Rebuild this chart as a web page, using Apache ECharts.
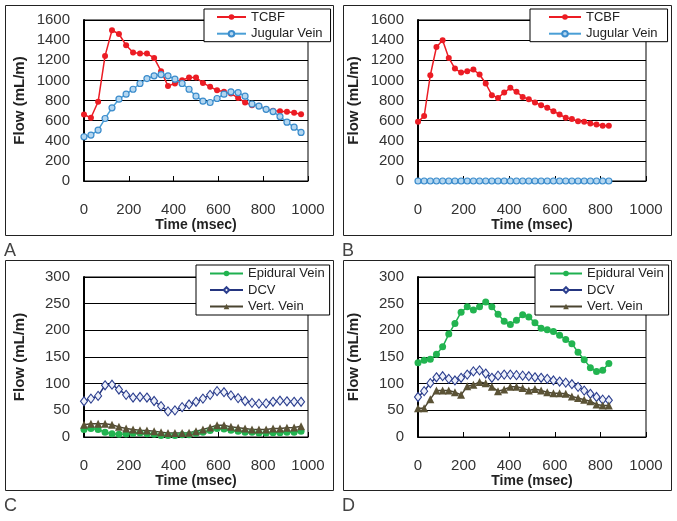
<!DOCTYPE html>
<html>
<head>
<meta charset="utf-8">
<script src="https://cdn.jsdelivr.net/npm/echarts@6/dist/echarts.min.js"></script>
<style>
html,body{margin:0;padding:0;background:#fff;}
#chart{width:677px;height:521px;}
</style>
</head>
<body>
<div id="chart"></div>
<script>
// Time stamps (msec)
var timesAC = [0,31,63,94,125,156,188,219,250,281,313,344,375,406,438,469,500,531,563,594,625,656,688,719,750,781,813,844,875,906,938,969];
var timesBD = [0,27,54,81,108,135,162,189,216,243,270,297,324,351,378,405,432,459,486,513,540,567,594,621,648,675,702,729,756,783,810,837];

// Panel A
var tcbfA = [661,628,787,1243,1498,1461,1349,1276,1266,1266,1223,1091,945,969,1002,1028,1028,975,936,902,886,869,826,780,754,747,714,697,694,688,678,664];
var jugularA = [440,456,506,621,727,813,863,912,969,1018,1045,1058,1045,1012,969,912,843,793,780,820,863,886,879,843,765,745,712,690,640,585,535,483];

// Panel B
var tcbfB = [588,645,1051,1332,1398,1223,1117,1078,1091,1107,1058,969,853,826,879,926,886,836,813,780,754,727,694,661,628,615,595,588,572,562,549,549];
var jugularB = [0,0,0,0,0,0,0,0,0,0,0,0,0,0,0,0,0,0,0,0,0,0,0,0,0,0,0,0,0,0,0,0];

// Panel C
var epiduralC = [14,16,14,9,6,5,5.6,7,7.5,6,5,3,3,3,4,4,7,9,12,16,15,12.5,11,9,9,7.5,7.5,8,8,9,9,11];
var dcvC = [67,72,77,97,98,89,79,74,75,74,67.5,58,48,50,56,61,66,72,79,86,84,78,73,67.5,64,62.5,63,66,68,67,66,66];
var vertC = [23,25,25,25,23,19,16,14,12.5,12,11,9,7.5,7.5,7.5,8,11,14,18,22,22,19,17.5,16,14,14,14,16,16,17.5,18,20];

// Panel D
var epiduralD = [139,144,146,155,169,193,213,234,244,238,244,253,244,230,217,211,219,229,225,214,204,201,198,191,183,175,159,145,130,123,125,138];
var dcvD = [75,86,101,112,114,109,106,111,117,123,125,119,111,115,117,117,116,115,114,112,111,109,106,104,102,99,94,87,81,75,70,69];
var vertD = [54,54,71,87,87,87,84,79,95,98,103,101,94,86,89,94,94,92,87,90,87,84,82,82,81,76,73,70,67,61,59,59];

// Axis ticks
var xTicks = {min:0, max:1000, interval:200};
var yTicksTop = {min:0, max:1600, interval:200};
var yTicksBottom = {min:0, max:300, interval:50};

var panelLetters = ['A','B','C','D'];
var FONT = 'Liberation Sans, Arial, sans-serif';

function pairs(xs, ys){ return xs.map(function(x,i){ return [x, ys[i]]; }); }
function plain(v){ return String(v); }

var grids = [
  {left:84, top:20, width:224, height:161},
  {left:418, top:20, width:228, height:161},
  {left:84, top:277, width:224, height:160},
  {left:418, top:277, width:228, height:160}
].map(function(g){
  return Object.assign({show:true, borderColor:'#000', borderWidth:1, backgroundColor:'#fff', containLabel:false}, g);
});

var xAxes = [0,1,2,3].map(function(i){
  return {
    type:'value', gridIndex:i, min:xTicks.min, max:xTicks.max, interval:xTicks.interval,
    name:'Time (msec)', nameLocation:'middle', nameGap:34,
    nameTextStyle:{fontFamily:FONT, fontSize:14, fontWeight:'bold', color:'#222'},
    axisLine:{show:true, lineStyle:{color:'#000', width:1}},
    axisTick:{show:true, inside:true, length:5, lineStyle:{color:'#000'}},
    axisLabel:{margin:21, fontFamily:FONT, fontSize:15, color:'#333', formatter:plain},
    splitLine:{show:false}
  };
});

var yAxes = [0,1,2,3].map(function(i){
  var t = i < 2 ? yTicksTop : yTicksBottom;
  return {
    type:'value', gridIndex:i, min:t.min, max:t.max, interval:t.interval,
    name:'Flow (mL/m)', nameLocation:'middle', nameGap:57, nameRotate:90,
    nameTextStyle:{fontFamily:FONT, fontSize:15, fontWeight:'bold', color:'#222'},
    axisLine:{show:true, lineStyle:{color:'#000', width:2}},
    axisTick:{show:false},
    axisLabel:{margin:14, fontFamily:FONT, fontSize:15, color:'#333', formatter:plain},
    splitLine:{show:true, lineStyle:{color:'#000', width:1}}
  };
});

var RED = '#ec1c24';
var styleTCBF = {symbol:'circle', symbolSize:6, lineStyle:{color:RED, width:1.5}, itemStyle:{color:RED}};
var styleJV = {symbol:'circle', symbolSize:6, lineStyle:{color:'#4a9fd6', width:1.5}, itemStyle:{color:'#b3d6f0', borderColor:'#3b8ccc', borderWidth:1.2}};
var styleEpi = {symbol:'circle', symbolSize:7, lineStyle:{color:'#1fb050', width:1.5}, itemStyle:{color:'#22b450'}};
var styleDCV = {symbol:'diamond', symbolSize:[7,9], lineStyle:{color:'#24357f', width:1.5}, itemStyle:{color:'#eef1fa', borderColor:'#2c3f8f', borderWidth:1.1}};
var styleVert = {symbol:'triangle', symbolSize:8, lineStyle:{color:'#4a4430', width:1.5}, itemStyle:{color:'#5b5336'}};

function mk(name, idx, xs, ys, st){
  return Object.assign({type:'line', name:name, xAxisIndex:idx, yAxisIndex:idx, data:pairs(xs, ys), showSymbol:true, animation:false, z:3}, st);
}

var series = [
  mk('TCBF', 0, timesAC, tcbfA, styleTCBF),
  mk('Jugular Vein', 0, timesAC, jugularA, styleJV),
  mk('TCBF', 1, timesBD, tcbfB, styleTCBF),
  mk('Jugular Vein', 1, timesBD, jugularB, styleJV),
  mk('Epidural Vein', 2, timesAC, epiduralC, styleEpi),
  mk('DCV', 2, timesAC, dcvC, styleDCV),
  mk('Vert. Vein', 2, timesAC, vertC, styleVert),
  mk('Epidural Vein', 3, timesBD, epiduralD, styleEpi),
  mk('DCV', 3, timesBD, dcvD, styleDCV),
  mk('Vert. Vein', 3, timesBD, vertD, styleVert)
];

function legend(names, left, top, itemWidth, pad, gap){
  return {
    data:names, orient:'vertical', left:left, top:top, itemWidth:itemWidth, itemHeight:7, itemGap:gap,
    padding:pad, backgroundColor:'#fff', borderColor:'#000', borderWidth:1, borderRadius:0,
    selectedMode:false, textStyle:{fontFamily:FONT, fontSize:13, color:'#222', lineHeight:12}, z:10
  };
}

var legends = [
  legend(['TCBF','Jugular Vein'], 204, 9, 29, [1.5, 8, 1.5, 12], 3.7),
  legend(['TCBF','Jugular Vein'], 530, 9, 32, [1.5, 10, 1.5, 18], 3.7),
  legend(['Epidural Vein','DCV','Vert. Vein'], 196, 265, 33, [2, 5, 2, 13], 3.5),
  legend(['Epidural Vein','DCV','Vert. Vein'], 535, 265, 32, [2, 5, 2, 14], 3.5)
];

var boxes = [[5,5],[343,5],[5,260],[343,260]];
var graphics = [];
boxes.forEach(function(b, i){
  graphics.push({type:'rect', z:-10, shape:{x:b[0]+0.5, y:b[1]+0.5, width:328, height:230},
    style:{fill:'none', stroke:'#222', lineWidth:1}});
  graphics.push({type:'text', z:-10, x:b[0]-1, y:b[1]+237,
    style:{text:panelLetters[i], fontFamily:FONT, fontSize:18, fill:'#444'}});
});

var chart = echarts.init(document.getElementById('chart'), null, {renderer:'canvas'});
chart.setOption({
  animation:false,
  backgroundColor:'#fff',
  grid:grids, xAxis:xAxes, yAxis:yAxes, series:series, legend:legends,
  graphic:{elements:graphics}
});
</script>
</body>
</html>
